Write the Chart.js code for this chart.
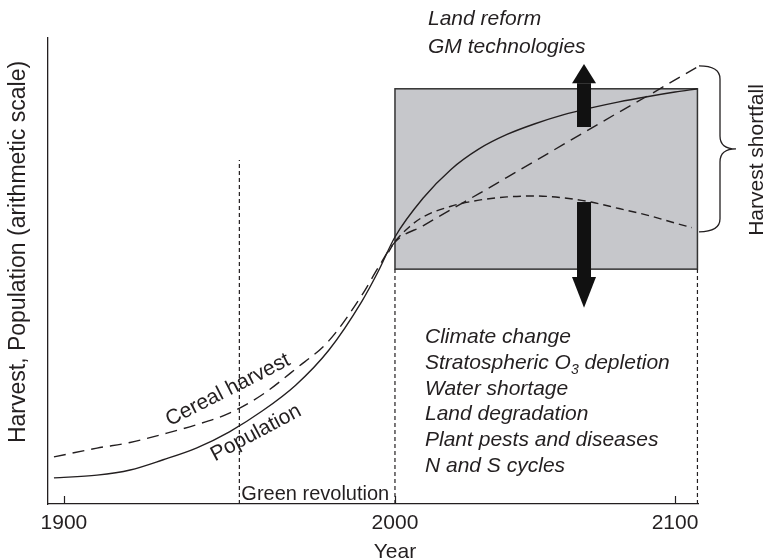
<!DOCTYPE html>
<html><head><meta charset="utf-8">
<script src="https://cdn.jsdelivr.net/npm/chart.js@4/dist/chart.umd.min.js"></script>
<style>html,body{margin:0;padding:0;background:#fff}#wrap{width:766px;height:560px}</style>
</head><body><div id="wrap"><canvas id="c" width="766" height="560"></canvas></div>
<script>
// ---------------- data (years / arbitrary arithmetic units 0-100) ----------------
const populationYears  = [1897,1910,1920,1930,1940,1950,1960,1970,1980,1990,1995,2000,2010,2020,2030,2040,2050,2060,2070,2080,2090,2100,2108];
const populationValues = [5.6, 6.2, 7.3, 9.5, 12.0,15.5,20.0,25.5,33.0,43.5,50.0,57.3,65.6,71.8,76.2,79.3,81.6,83.5,85.0,86.3,87.4,88.4,89.1];
const harvestYears     = [1897,1910,1920,1930,1940,1950,1960,1970,1980,1990,1995,2000,2010,2020,2030,2040,2050,2060,2070,2080,2090,2100,2108];
const harvestValues    = [10.1,12.0,13.2,15.0,17.0,19.5,23.5,29.0,35.0,44.8,50.8,56.2,59.7,63.2,66.6,70.1,73.6,77.1,80.6,84.1,87.5,91.0,93.8];
const projectionYears  = [1998,2000,2005,2010,2020,2030,2040,2050,2060,2070,2080,2090,2100,2106];
const projectionValues = [54.0,56.3,59.4,61.6,63.9,65.2,65.9,66.1,65.7,64.8,63.4,62.0,60.3,59.3];
const xTickYears = [1900, 2000, 2100];
const xRange = [1895.2, 2108.2];
const yRange = [0, 100];
const greenRevolutionYear = 1953;
const greenRevolutionTop = 73.8;
const boxYears = [2000, 2108];
const boxValues = [50.4, 89.1];
const arrowYear = 2067.5;
const upArrowValues = [80.9, 90.3, 94.4];    // shaft base, head base, tip
const downArrowValues = [64.8, 48.7, 42.1];
const braceValues = [94.0, 58.4];
const topLabels = ['Land reform', 'GM technologies'];
const threatLabels = ['Climate change', 'Stratospheric O|3| depletion', 'Water shortage', 'Land degradation', 'Plant pests and diseases', 'N and S cycles'];
const yTitle = 'Harvest, Population (arithmetic scale)';
const xTitle = 'Year';

// -------------- x scale: the figure's year axis is not uniform after 2000 --------------
const SPLIT = 2000, RATIO = 280 / 331;
function warp(v) { return v <= SPLIT ? v : SPLIT + (v - SPLIT) * RATIO; }
function unwarp(w) { return w <= SPLIT ? w : SPLIT + (w - SPLIT) / RATIO; }
class WarpedYearScale extends Chart.LinearScale {
  static id = 'warpedYear';
  static defaults = Chart.LinearScale.defaults;
  getPixelForValue(value) {
    if (value === null || value === undefined) return NaN;
    const a = warp(this.min), b = warp(this.max);
    return this.getPixelForDecimal((warp(value) - a) / (b - a));
  }
  getValueForPixel(pixel) {
    const a = warp(this.min), b = warp(this.max);
    return unwarp(a + this.getDecimalForPixel(pixel) * (b - a));
  }
}
Chart.register(WarpedYearScale);

const INK = '#231f20';
const FONT = "'Liberation Sans', Arial, Helvetica, sans-serif";
const pts = (xs, ys) => xs.map((x, i) => ({ x, y: ys[i] }));

const decor = {
  id: 'decor',
  beforeDatasetsDraw(chart) {
    const { ctx, scales: { x, y } } = chart;
    ctx.save();
    // grey box
    const bx0 = x.getPixelForValue(boxYears[0]), bx1 = x.getPixelForValue(boxYears[1]);
    const by0 = y.getPixelForValue(boxValues[1]), by1 = y.getPixelForValue(boxValues[0]);
    ctx.fillStyle = '#c6c7cb';
    ctx.fillRect(bx0, by0, bx1 - bx0, by1 - by0);
    ctx.strokeStyle = '#333';
    ctx.lineWidth = 1.5;
    ctx.strokeRect(bx0, by0, bx1 - bx0, by1 - by0);
    // vertical dashed guides
    ctx.setLineDash([4, 3]);
    ctx.lineWidth = 1.2;
    ctx.strokeStyle = INK;
    const vline = (yr, v0, v1) => {
      const px = x.getPixelForValue(yr);
      ctx.beginPath(); ctx.moveTo(px, y.getPixelForValue(v0)); ctx.lineTo(px, y.getPixelForValue(v1)); ctx.stroke();
    };
    vline(greenRevolutionYear, 0, greenRevolutionTop);
    vline(boxYears[0], 0, boxValues[0]);
    vline(boxYears[1], 0, boxValues[0]);
    ctx.restore();
  },
  afterDatasetsDraw(chart) {
    const { ctx, scales: { x, y } } = chart;
    ctx.save();
    // x tick marks pointing inward
    ctx.strokeStyle = INK; ctx.lineWidth = 1.2;
    xTickYears.forEach(v => {
      const px = Math.round(x.getPixelForValue(v)) + 0.5;
      ctx.beginPath(); ctx.moveTo(px, y.bottom); ctx.lineTo(px, y.bottom - 8); ctx.stroke();
    });
    // arrows
    ctx.fillStyle = '#111';
    const ax = x.getPixelForValue(arrowYear);
    const arrow = (vals) => {
      const s0 = y.getPixelForValue(vals[0]), hb = y.getPixelForValue(vals[1]), tip = y.getPixelForValue(vals[2]);
      ctx.fillRect(ax - 7, Math.min(s0, hb), 14, Math.abs(hb - s0));
      ctx.beginPath(); ctx.moveTo(ax - 12, hb); ctx.lineTo(ax + 12, hb); ctx.lineTo(ax, tip); ctx.closePath(); ctx.fill();
    };
    arrow(upArrowValues);
    arrow(downArrowValues);
    // brace
    const bx = x.getPixelForValue(xRange[1]) + 1;
    const yt = y.getPixelForValue(braceValues[0]), yb = y.getPixelForValue(braceValues[1]);
    const ym = (yt + yb) / 2, xm = bx + 21, xc = bx + 37, r = 13;
    ctx.strokeStyle = INK; ctx.lineWidth = 1.3;
    ctx.beginPath();
    ctx.moveTo(bx, yt);
    ctx.quadraticCurveTo(xm, yt, xm, yt + r);
    ctx.lineTo(xm, ym - r);
    ctx.quadraticCurveTo(xm, ym, xc, ym);
    ctx.quadraticCurveTo(xm, ym, xm, ym + r);
    ctx.lineTo(xm, yb - r);
    ctx.quadraticCurveTo(xm, yb, bx, yb);
    ctx.stroke();
    // texts
    ctx.fillStyle = INK;
    ctx.textBaseline = 'alphabetic';
    ctx.textAlign = 'left';
    ctx.font = `italic 21px ${FONT}`;
    topLabels.forEach((t, i) => ctx.fillText(t, 428, 25 + i * 28));
    threatLabels.forEach((t, i) => {
      const by = 343 + i * 25.8;
      const parts = t.split('|');
      let cx = 425;
      parts.forEach((p, j) => {
        ctx.font = j % 2 === 1 ? `italic 14px ${FONT}` : `italic 21px ${FONT}`;
        ctx.fillText(p, cx, j % 2 === 1 ? by + 5 : by);
        cx += ctx.measureText(p).width;
      });
    });
    ctx.font = `20px ${FONT}`;
    ctx.fillText('Green revolution', x.getPixelForValue(greenRevolutionYear) + 2, 500);
    ctx.font = `21px ${FONT}`;
    ctx.textAlign = 'center'; ctx.textBaseline = 'middle';
    ctx.fillText(xTitle, x.getPixelForValue(2000), 552);
    const rot = (t, cx, cy, a) => { ctx.save(); ctx.translate(cx, cy); ctx.rotate(a); ctx.fillText(t, 0, 0); ctx.restore(); };
    rot('Cereal harvest', 228, 390, -27 * Math.PI / 180);
    rot('Population', 256, 433, -28 * Math.PI / 180);
    rot('Harvest shortfall', 757, 160, -Math.PI / 2);
    ctx.font = `23px ${FONT}`;
    rot(yTitle, 19, 252, -Math.PI / 2);
    ctx.restore();
  }
};

const lineStyle = { borderColor: INK, borderWidth: 1.4, pointRadius: 0, fill: false, cubicInterpolationMode: 'monotone' };

new Chart(document.getElementById('c'), {
  type: 'line',
  data: {
    datasets: [
      { label: 'Population', data: pts(populationYears, populationValues), ...lineStyle },
      { label: 'Cereal harvest', data: pts(harvestYears, harvestValues), ...lineStyle, borderDash: [12, 7] },
      { label: 'Harvest (pessimistic)', data: pts(projectionYears, projectionValues), ...lineStyle, borderDash: [8, 5] }
    ]
  },
  options: {
    responsive: false,
    animation: false,
    layout: { padding: { top: 38, right: 68, left: 0, bottom: 0 } },
    plugins: { legend: { display: false }, tooltip: { enabled: false } },
    scales: {
      x: {
        type: 'warpedYear', position: 'bottom', min: xRange[0], max: xRange[1],
        grid: { display: false, drawTicks: false },
        border: { display: true, color: INK, width: 1.3 },
        afterBuildTicks: s => { s.ticks = xTickYears.map(v => ({ value: v })); },
        afterFit: s => { s.height = 56; },
        ticks: { color: INK, font: { family: FONT, size: 21 }, padding: 7, maxRotation: 0, autoSkip: false, callback: v => String(v) }
      },
      y: {
        min: yRange[0], max: yRange[1],
        grid: { display: false, drawTicks: false },
        border: { display: true, color: INK, width: 1.3 },
        ticks: { display: false },
        afterFit: s => { s.width = 48; }
      }
    }
  },
  plugins: [decor]
});
</script></body></html>
